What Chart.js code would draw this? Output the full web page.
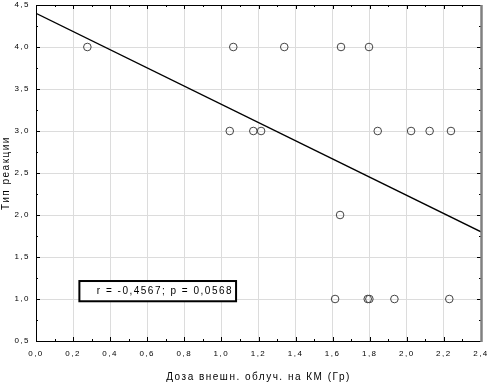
<!DOCTYPE html>
<html><head><meta charset="utf-8">
<script src="https://cdn.jsdelivr.net/npm/chart.js@4.4.1/dist/chart.umd.min.js"></script>
<style>html,body{margin:0;padding:0;background:#fff;}#wrap{width:488px;height:383px;}</style>
</head><body><div id="wrap"><canvas id="c" width="488" height="383"></canvas></div>
<script>
const doseX = [0.277, 1.064, 1.339, 1.645, 1.796,
               1.045, 1.172, 1.214, 1.843, 2.023, 2.123, 2.238,
               1.640,
               1.613, 1.789, 1.798, 1.933, 2.229];
const reactionY = [4, 4, 4, 4, 4,
                   3, 3, 3, 3, 3, 3, 3,
                   2,
                   1, 1, 1, 1, 1];
const fitX = [0, 2.4];
const fitY = [4.40, 1.80];
const xTicks = [0, 0.2, 0.4, 0.6, 0.8, 1.0, 1.2, 1.4, 1.6, 1.8, 2.0, 2.2, 2.4];
const yTicks = [0.5, 1.0, 1.5, 2.0, 2.5, 3.0, 3.5, 4.0, 4.5];
const statText = 'r = -0,4567; p = 0,0568';
const statBox = {x0: 0.234, x1: 1.079, y0: 0.973, y1: 1.214};
const xTitle = 'Доза внешн. облуч. на КМ (Гр)';
const yTitle = 'Тип реакции';

const FONT = 'Liberation Sans, Arial, sans-serif';
const fmt = v => Number(v).toFixed(1).replace('.', ',');

const spacing = {
  id: 'spacing',
  beforeDraw(chart) { chart.ctx.letterSpacing = '1.5px'; }
};

const decor = {
  id: 'decor',
  afterDatasetsDraw(chart) {
    const ctx = chart.ctx, a = chart.chartArea;
    const xs = chart.scales.x, ys = chart.scales.y;
    ctx.save();
    ctx.strokeStyle = '#000'; ctx.lineWidth = 1;
    ctx.beginPath();
    for (let i = 0; i <= 24; i++) {
      const v = i * 0.1; const px = Math.round(xs.getPixelForValue(v)) + 0.5;
      const len = (i % 2 === 0) ? 4 : 2;
      ctx.moveTo(px, a.bottom); ctx.lineTo(px, a.bottom - len);
      ctx.moveTo(px, a.top); ctx.lineTo(px, a.top + len);
    }
    for (let i = 0; i <= 16; i++) {
      const v = 0.5 + i * 0.25; const py = Math.round(ys.getPixelForValue(v)) + 0.5;
      const len = (i % 2 === 0) ? 4 : 2;
      ctx.moveTo(a.left, py); ctx.lineTo(a.left + len, py);
      ctx.moveTo(a.right, py); ctx.lineTo(a.right - len, py);
    }
    ctx.stroke();
    ctx.beginPath();
    ctx.moveTo(a.left, a.top + 0.5); ctx.lineTo(a.right, a.top + 0.5);
    ctx.stroke();
    ctx.strokeStyle = '#808080'; ctx.lineWidth = 2.5;
    ctx.beginPath();
    ctx.moveTo(a.right + 0.5, a.top); ctx.lineTo(a.right + 0.5, a.bottom + 1);
    ctx.stroke();
    const bx0 = xs.getPixelForValue(statBox.x0), bx1 = xs.getPixelForValue(statBox.x1);
    const by0 = ys.getPixelForValue(statBox.y1), by1 = ys.getPixelForValue(statBox.y0);
    ctx.fillStyle = '#fff';
    ctx.fillRect(bx0, by0, bx1 - bx0, by1 - by0);
    ctx.strokeStyle = '#000'; ctx.lineWidth = 2;
    ctx.strokeRect(bx0, by0, bx1 - bx0, by1 - by0);
    ctx.fillStyle = '#000';
    ctx.font = '10px ' + FONT;
    ctx.letterSpacing = '1.5px';
    ctx.textAlign = 'right'; ctx.textBaseline = 'middle';
    ctx.fillText(statText, bx1 - 3, (by0 + by1) / 2 + 0.5);
    ctx.restore();
  }
};

new Chart(document.getElementById('c'), {
  type: 'scatter',
  data: {
    datasets: [
      {
        label: 'fit', type: 'line',
        data: fitX.map((x, i) => ({x, y: fitY[i]})),
        borderColor: '#000', borderWidth: 1.3, pointRadius: 0, fill: false, order: 2
      },
      {
        label: 'obs',
        data: doseX.map((x, i) => ({x, y: reactionY[i]})),
        pointRadius: 3.8, pointStyle: 'circle',
        backgroundColor: 'rgba(255,255,255,0)', borderColor: '#444', borderWidth: 1, order: 1
      }
    ]
  },
  options: {
    responsive: false, animation: false,
    layout: {padding: {top: 3, right: 7, left: 0, bottom: 0}},
    plugins: {legend: {display: false}, tooltip: {enabled: false}},
    scales: {
      x: {
        type: 'linear', min: 0, max: 2.4,
        afterBuildTicks: s => { s.ticks = xTicks.map(v => ({value: v})); },
        afterFit: s => { s.height = 42; s.paddingLeft = 0; s.paddingRight = 0; },
        ticks: {callback: fmt, color: '#000', padding: 8, font: {family: FONT, size: 8}, maxRotation: 0, autoSkip: false},
        grid: {color: '#dcdcdc', drawTicks: false, lineWidth: 1},
        border: {color: '#000', width: 1},
        title: {display: true, text: xTitle, color: '#000', font: {family: FONT, size: 10}, padding: {top: 0, bottom: 0}}
      },
      y: {
        type: 'linear', min: 0.5, max: 4.5,
        afterBuildTicks: s => { s.ticks = yTicks.map(v => ({value: v})); },
        afterFit: s => { s.width = 36; s.paddingTop = 0; s.paddingBottom = 0; },
        ticks: {callback: fmt, color: '#000', padding: 6, font: {family: FONT, size: 8}, autoSkip: false},
        grid: {color: '#dcdcdc', drawTicks: false, lineWidth: 1},
        border: {color: '#000', width: 1},
        title: {display: true, text: yTitle, color: '#000', font: {family: FONT, size: 10}, padding: {top: 0, bottom: 0}}
      }
    }
  },
  plugins: [spacing, decor]
});
</script></body></html>
